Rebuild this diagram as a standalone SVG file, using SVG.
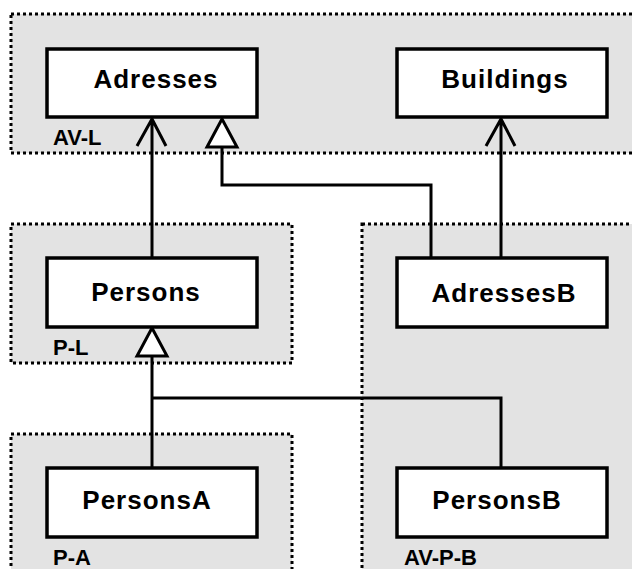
<svg xmlns="http://www.w3.org/2000/svg" width="632" height="569" viewBox="0 0 632 569">
<style>
.cl{fill:#e3e3e3;stroke:#000;stroke-width:3;stroke-dasharray:3 3}
.nd{fill:#fff;stroke:#000;stroke-width:3.5}
.t{font-family:"Liberation Sans",Arial,sans-serif;font-weight:bold;font-size:26px;letter-spacing:1px;text-anchor:middle;fill:#000}
.lb{font-family:"Liberation Sans",Arial,sans-serif;font-weight:bold;font-size:22px;fill:#000}
.c{fill:none;stroke:#000;stroke-width:3}
.tri{fill:#fff;stroke:#000;stroke-width:3;stroke-linejoin:miter}
</style>
<rect width="632" height="569" fill="#fff"/>
<g id="clusters">
<g id="AV-L"><rect class="cl" x="11" y="14" width="640" height="139"/><text class="lb" x="53" y="145">AV-L</text></g>
<g id="P-L"><rect class="cl" x="11" y="224" width="281" height="139"/><text class="lb" x="53" y="355">P-L</text></g>
<g id="P-A"><rect class="cl" x="11" y="434" width="281" height="160"/><text class="lb" x="53" y="565">P-A</text></g>
<g id="AV-P-B"><rect class="cl" x="362" y="224" width="300" height="370"/><text class="lb" x="404" y="565">AV-P-B</text></g>
</g>
<g id="connectors">
<path class="c" d="M152 258V119M137 146L152 119L166 146"/>
<path class="c" d="M431 258V185H222V147"/>
<path class="tri" d="M222 119L237 147H207Z"/>
<path class="c" d="M501 258V119M486 146L501 119L515 146"/>
<path class="c" d="M152 468V356"/>
<path class="c" d="M501 468V398H152"/>
<path class="tri" d="M152 328L167 356H137Z"/>
</g>
<g id="Adresses"><rect class="nd" x="47" y="49" width="210" height="68"/><text class="t" x="156" y="88">Adresses</text></g>
<g id="Buildings"><rect class="nd" x="397" y="49" width="210" height="68"/><text class="t" x="505" y="88">Buildings</text></g>
<g id="Persons"><rect class="nd" x="47" y="258" width="210" height="69"/><text class="t" x="146" y="301">Persons</text></g>
<g id="AdressesB"><rect class="nd" x="397" y="258" width="210" height="69"/><text class="t" x="504" y="302">AdressesB</text></g>
<g id="PersonsA"><rect class="nd" x="47" y="468" width="210" height="69"/><text class="t" x="147" y="509">PersonsA</text></g>
<g id="PersonsB"><rect class="nd" x="397" y="468" width="210" height="69"/><text class="t" x="497" y="509">PersonsB</text></g>
</svg>
